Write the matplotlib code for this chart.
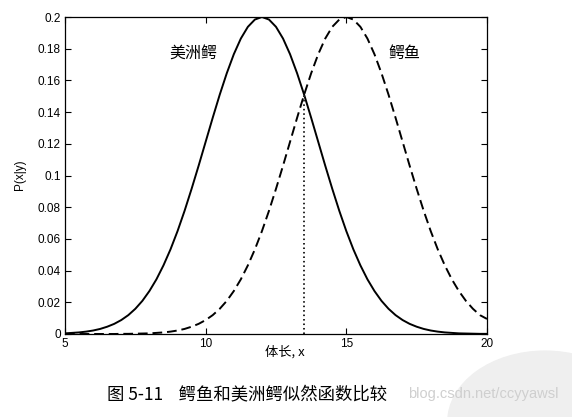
import matplotlib
matplotlib.use("Agg")
import matplotlib.pyplot as plt
from matplotlib.patches import Circle

plt.rcParams['font.family'] = ['Liberation Sans', 'Noto Sans CJK SC', 'DejaVu Sans']

# x positions where curves were read (body length)
x_vals = [5.0, 5.25, 5.5, 5.75, 6.0, 6.25, 6.5, 6.75, 7.0, 7.25, 7.5, 7.75,
          8.0, 8.25, 8.5, 8.75, 9.0, 9.25, 9.5, 9.75, 10.0, 10.25, 10.5, 10.75,
          11.0, 11.25, 11.5, 11.75, 12.0, 12.25, 12.5, 12.75, 13.0, 13.25, 13.5, 13.75,
          14.0, 14.25, 14.5, 14.75, 15.0, 15.25, 15.5, 15.75, 16.0, 16.25, 16.5, 16.75,
          17.0, 17.25, 17.5, 17.75, 18.0, 18.25, 18.5, 18.75, 19.0, 19.25, 19.5, 19.75,
          20.0]
# 美洲鳄 (solid)
alligator = [0.0004, 0.0007, 0.0010, 0.0015, 0.0022, 0.0032, 0.0046, 0.0064,
             0.0088, 0.0119, 0.0159, 0.0209, 0.0271, 0.0345, 0.0433, 0.0534,
             0.0649, 0.0777, 0.0916, 0.1062, 0.1213, 0.1364, 0.1510, 0.1645,
             0.1765, 0.1864, 0.1938, 0.1984, 0.2000, 0.1984, 0.1938, 0.1864,
             0.1765, 0.1645, 0.1510, 0.1364, 0.1213, 0.1062, 0.0916, 0.0777,
             0.0649, 0.0534, 0.0433, 0.0345, 0.0271, 0.0209, 0.0159, 0.0119,
             0.0088, 0.0064, 0.0046, 0.0032, 0.0022, 0.0015, 0.0010, 0.0007,
             0.0004, 0.0003, 0.0002, 0.0001, 0.0001]
# 鳄鱼 (dashed)
crocodile = [0.0, 0.0, 0.0, 0.0, 0.0, 0.0, 0.0, 0.0,
             0.0001, 0.0001, 0.0002, 0.0003, 0.0004, 0.0007, 0.0010, 0.0015,
             0.0022, 0.0032, 0.0046, 0.0064, 0.0088, 0.0119, 0.0159, 0.0209,
             0.0271, 0.0345, 0.0433, 0.0534, 0.0649, 0.0777, 0.0916, 0.1062,
             0.1213, 0.1364, 0.1510, 0.1645, 0.1765, 0.1864, 0.1938, 0.1984,
             0.2000, 0.1984, 0.1938, 0.1864, 0.1765, 0.1645, 0.1510, 0.1364,
             0.1213, 0.1062, 0.0916, 0.0777, 0.0649, 0.0534, 0.0433, 0.0345,
             0.0271, 0.0209, 0.0159, 0.0119, 0.0095]
threshold_x = 13.5
threshold_y = 0.151
x_ticks = [5, 10, 15, 20]
y_ticks = [0, 0.02, 0.04, 0.06, 0.08, 0.1, 0.12, 0.14, 0.16, 0.18, 0.2]
y_tick_labels = ['0', '0.02', '0.04', '0.06', '0.08', '0.1', '0.12', '0.14', '0.16', '0.18', '0.2']

W, H = 572, 417
fig = plt.figure(figsize=(W / 100, H / 100), dpi=100)

# faint watermark logo in the lower right
logo = Circle((545 / W, -5 / H), 0.17, transform=fig.transFigure, color='#efefef',
              zorder=0)
fig.patches.append(logo)

left, right, top, bottom = 65, 487, 17, 334
ax = fig.add_axes([left / W, 1 - bottom / H, (right - left) / W, (bottom - top) / H])
ax.set_facecolor('none')

ax.plot(x_vals, alligator, color='black', lw=1.4, solid_joinstyle='round')
ax.plot(x_vals, crocodile, color='black', lw=1.4, linestyle=(0, (5, 2.5)))
ax.plot([threshold_x, threshold_x], [0, threshold_y], color='#222222', lw=1.4,
        linestyle=(0, (0.8, 1.5)))

ax.set_xlim(5, 20)
ax.set_ylim(0, 0.2)
ax.set_xticks(x_ticks)
ax.set_xticklabels([str(t) for t in x_ticks])
ax.set_yticks(y_ticks)
ax.set_yticklabels(y_tick_labels)
ax.tick_params(direction='in', top=True, right=True, length=4, width=0.8,
               labelsize=8.5, pad=3)
for s in ax.spines.values():
    s.set_linewidth(0.9)

ax.text(9.57, 0.177, '美洲鳄', fontsize=11.5, ha='center', va='center',
        family=['Noto Sans CJK SC', 'DejaVu Sans'])
ax.text(17.07, 0.177, '鳄鱼', fontsize=11.5, ha='center', va='center',
        family=['Noto Sans CJK SC', 'DejaVu Sans'])

fig.text(285 / W, 1 - 352 / H, '体长, x', fontsize=9.5, ha='center', va='center',
         family=['Noto Sans CJK SC', 'DejaVu Sans'])
fig.text(20 / W, 1 - 175 / H, 'P(x|y)', fontsize=8.5, rotation=90, ha='center',
         va='center')

fig.text(408 / W, 1 - 394 / H, 'blog.csdn.net/ccyyawsl', fontsize=10.5,
         color='#cfcfcf', ha='left', va='center')
fig.text(107 / W, 1 - 394 / H, '图 5-11    鳄鱼和美洲鳄似然函数比较', fontsize=12.5,
         ha='left', va='center', family=['Noto Sans CJK SC', 'DejaVu Sans'])

fig.savefig('out.png', dpi=100)
